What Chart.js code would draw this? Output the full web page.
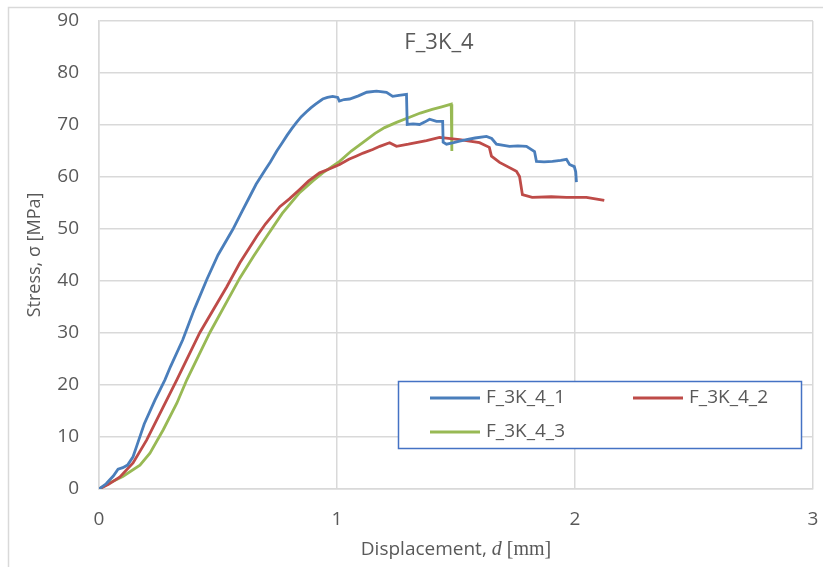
<!DOCTYPE html>
<html>
<head>
<meta charset="utf-8">
<script src="https://cdn.jsdelivr.net/npm/chart.js@4.4.1/dist/chart.umd.min.js"></script>
<style>
  html, body { margin: 0; padding: 0; background: #fff; }
  #wrap { width: 823px; height: 567px; position: relative; }
</style>
</head>
<body>
<div id="wrap"><canvas id="stressChart" width="823" height="567"></canvas></div>
<script>
// series labels
var seriesNames = ["F_3K_4_1", "F_3K_4_2", "F_3K_4_3"];

// displacement [mm] / stress [MPa]
var blueX = [0, 0.03, 0.06, 0.08, 0.1, 0.12, 0.143, 0.158, 0.19, 0.235, 0.277, 0.3, 0.352, 0.4, 0.453, 0.5, 0.562, 0.6, 0.634, 0.66, 0.7, 0.72, 0.747, 0.77, 0.79, 0.81, 0.83, 0.85, 0.873, 0.89, 0.91, 0.94, 0.96, 0.982, 1.003, 1.01, 1.03, 1.053, 1.09, 1.125, 1.166, 1.208, 1.234, 1.26, 1.292, 1.295, 1.32, 1.347, 1.37, 1.389, 1.418, 1.444, 1.446, 1.46, 1.49, 1.515, 1.544, 1.58, 1.628, 1.65, 1.67, 1.725, 1.76, 1.796, 1.83, 1.838, 1.87, 1.905, 1.94, 1.964, 1.977, 1.997, 2.003, 2.006];
var blueY = [0, 1.0, 2.5, 3.8, 4.1, 4.6, 6.2, 8.2, 12.5, 17.1, 21, 23.5, 28.7, 34.5, 40.3, 45, 49.9, 53.3, 56.3, 58.6, 61.5, 62.9, 65.0, 66.6, 68, 69.3, 70.5, 71.6, 72.6, 73.3, 74, 75, 75.3, 75.5, 75.3, 74.6, 74.9, 75.0, 75.6, 76.3, 76.5, 76.3, 75.5, 75.7, 75.9, 70.1, 70.2, 70.1, 70.6, 71.1, 70.7, 70.7, 66.7, 66.3, 66.6, 66.9, 67.2, 67.5, 67.8, 67.4, 66.3, 65.9, 66.0, 65.9, 64.9, 63.0, 62.9, 63.0, 63.2, 63.4, 62.4, 62.0, 61.0, 59.0];

var redX = [0, 0.04, 0.088, 0.143, 0.2, 0.27, 0.327, 0.424, 0.537, 0.592, 0.663, 0.7, 0.76, 0.8, 0.843, 0.88, 0.927, 0.97, 1.011, 1.05, 1.08, 1.11, 1.15, 1.18, 1.221, 1.25, 1.3, 1.376, 1.431, 1.515, 1.599, 1.64, 1.649, 1.683, 1.754, 1.767, 1.779, 1.82, 1.9, 1.964, 2.048, 2.123];
var redY = [0, 0.9, 2.3, 5.0, 9.4, 15.8, 21, 30.1, 38.9, 43.5, 48.6, 51.0, 54.3, 55.8, 57.6, 59.2, 60.8, 61.6, 62.4, 63.4, 64.0, 64.6, 65.3, 65.9, 66.6, 65.9, 66.3, 67.0, 67.6, 67.2, 66.6, 65.7, 64.0, 62.8, 61.1, 60.1, 56.6, 56.1, 56.2, 56.1, 56.1, 55.5];

var greenX = [0, 0.046, 0.1, 0.172, 0.214, 0.27, 0.327, 0.369, 0.466, 0.592, 0.65, 0.705, 0.77, 0.843, 0.9, 0.94, 1.011, 1.06, 1.125, 1.16, 1.2, 1.25, 1.305, 1.35, 1.4, 1.44, 1.48, 1.482, 1.483];
var greenY = [0, 1.2, 2.4, 4.6, 6.9, 11.4, 16.5, 21, 30.1, 40.6, 44.8, 48.6, 53.0, 57.0, 59.3, 60.8, 63.0, 65.0, 67.2, 68.4, 69.5, 70.5, 71.5, 72.3, 73.0, 73.5, 74.0, 69.0, 65.0];

var xTicks = [0, 1, 2, 3];
var yTicks = [0, 10, 20, 30, 40, 50, 60, 70, 80, 90];

function pts(xs, ys) {
    return xs.map(function (x, i) { return { x: x, y: ys[i] }; });
}

var colors = ["#4a7ebb", "#be4b48", "#98b954"];
var txt = "#595959";
var grid = "#d9d9d9";

// title + legend drawn inside the plot area, plus outer frame
var decoPlugin = {
    id: "deco",
    afterDraw: function (chart) {
        var c = chart.ctx;
        c.save();
        c.strokeStyle = grid;
        c.lineWidth = 1.5;
        c.strokeRect(8.5, 7.5, 840, 600);

        c.fillStyle = txt;
        c.font = "22px 'Open Sans'";
        c.textAlign = "center";
        c.textBaseline = "middle";
        c.fillText("F_3K_4", 439, 43);

        // x-axis title with mixed fonts
        var p1 = "Displacement, ", p2 = "d", p3 = " [mm]";
        c.textAlign = "left";
        c.font = "19px 'Open Sans'";
        var w1 = c.measureText(p1).width;
        c.font = "italic 20px 'Liberation Serif'";
        var w2 = c.measureText(p2).width;
        c.font = "20px 'Liberation Serif'";
        var w3 = c.measureText(p3).width;
        var sx = 456 - (w1 + w2 + w3) / 2;
        c.font = "19px 'Open Sans'";
        c.fillText(p1, sx, 550);
        c.font = "italic 20px 'Liberation Serif'";
        c.fillText(p2, sx + w1, 550);
        c.font = "20px 'Liberation Serif'";
        c.fillText(p3, sx + w1 + w2, 550);

        // legend box
        c.fillStyle = "#fff";
        c.fillRect(398, 381, 404, 68);
        c.strokeStyle = "#4472c4";
        c.lineWidth = 1.5;
        c.strokeRect(398.5, 381.5, 403, 67);
        var spots = [[430, 398], [633, 398], [430, 432]];
        c.font = "19px 'Open Sans'";
        chart.data.datasets.forEach(function (ds, i) {
            var s = spots[i];
            c.strokeStyle = ds.borderColor;
            c.lineWidth = 3;
            c.beginPath();
            c.moveTo(s[0], s[1]);
            c.lineTo(s[0] + 50, s[1]);
            c.stroke();
            c.fillStyle = txt;
            c.fillText(ds.label, s[0] + 56, s[1]);
        });
        c.restore();
    }
};

function noEdgePad(s) {
    s.paddingTop = 0;
    s.paddingBottom = 0;
    s.paddingLeft = 0;
    s.paddingRight = 0;
}

var ctx = document.getElementById("stressChart");
new Chart(ctx, {
    type: "scatter",
    data: {
        datasets: [
            { label: seriesNames[0], data: pts(blueX, blueY), borderColor: colors[0] },
            { label: seriesNames[1], data: pts(redX, redY), borderColor: colors[1] },
            { label: seriesNames[2], data: pts(greenX, greenY), borderColor: colors[2] }
        ].map(function (d) {
            d.showLine = true;
            d.pointRadius = 0;
            d.borderWidth = 2.8;
            d.tension = 0;
            d.fill = false;
            return d;
        })
    },
    options: {
        responsive: false,
        animation: false,
        layout: { padding: { top: 21, right: 10, left: 0, bottom: 0 } },
        plugins: {
            legend: { display: false },
            tooltip: { enabled: false }
        },
        scales: {
            x: {
                type: "linear",
                min: 0,
                max: 3,
                afterBuildTicks: function (s) { s.ticks = xTicks.map(function (v) { return { value: v }; }); },
                afterFit: function (s) { s.height = 78; noEdgePad(s); },
                grid: { color: grid, lineWidth: 1.5, drawTicks: false },
                border: { color: grid, width: 1.5 },
                ticks: { color: txt, font: { family: "Open Sans", size: 19 }, padding: 19, maxRotation: 0 }
            },
            y: {
                min: 0,
                max: 90,
                afterBuildTicks: function (s) { s.ticks = yTicks.map(function (v) { return { value: v }; }); },
                afterFit: function (s) { s.width = 99; noEdgePad(s); },
                grid: { color: grid, lineWidth: 1.5, drawTicks: false },
                border: { color: grid, width: 1.5 },
                ticks: { color: txt, font: { family: "Open Sans", size: 19 }, padding: 20 },
                title: {
                    display: true,
                    text: "Stress, σ [MPa]",
                    color: txt,
                    font: { family: "Open Sans", size: 18 },
                    padding: { top: 24, bottom: 0 }
                }
            }
        }
    },
    plugins: [decoPlugin]
});
</script>
</body>
</html>
